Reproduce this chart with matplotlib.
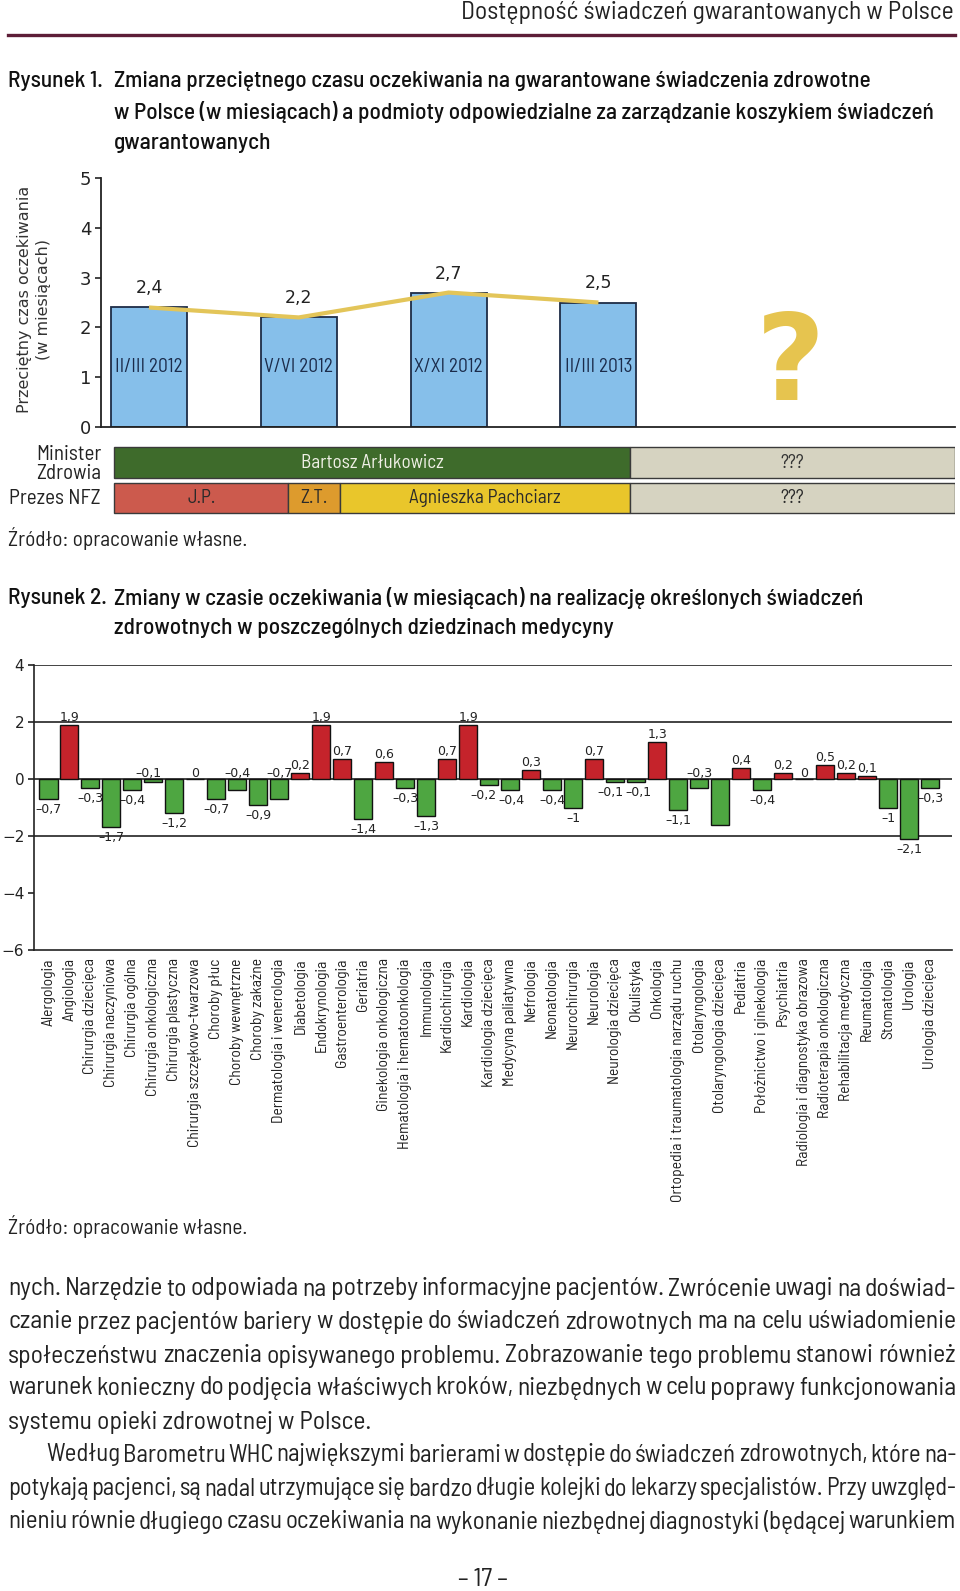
import matplotlib
matplotlib.use('Agg')
import matplotlib.pyplot as plt
import numpy as np
from matplotlib.font_manager import FontProperties, fontManager
from matplotlib.lines import Line2D

# ---------------- data: figure 1 ----------------
periods = ['II/III 2012', 'V/VI 2012', 'X/XI 2012', 'II/III 2013']
avg_wait = [2.4, 2.2, 2.7, 2.5]
y1_ticks = [0, 1, 2, 3, 4, 5]

minister_names = ['Bartosz Arłukowicz', '???']
minister_start = [-0.23, 3.21]
minister_end = [3.21, 5.38]

nfz_names = ['J.P.', 'Z.T.', 'Agnieszka Pachciarz', '???']
nfz_start = [-0.23, 0.93, 1.275, 3.21]
nfz_end = [0.93, 1.275, 3.21, 5.38]

# ---------------- data: figure 2 ----------------
specialties = [
    'Alergologia', 'Angiologia', 'Chirurgia dziecięca', 'Chirurgia naczyniowa',
    'Chirurgia ogólna', 'Chirurgia onkologiczna', 'Chirurgia plastyczna',
    'Chirurgia szczękowo-twarzowa', 'Choroby płuc', 'Choroby wewnętrzne',
    'Choroby zakaźne', 'Dermatologia i wenerologia', 'Diabetologia',
    'Endokrynologia', 'Gastroenterologia', 'Geriatria', 'Ginekologia onkologiczna',
    'Hematologia i hematoonkologia', 'Immunologia', 'Kardiochirurgia', 'Kardiologia',
    'Kardiologia dziecięca', 'Medycyna paliatywna', 'Nefrologia', 'Neonatologia',
    'Neurochirurgia', 'Neurologia', 'Neurologia dziecięca', 'Okulistyka', 'Onkologia',
    'Ortopedia i traumatologia narządu ruchu', 'Otolaryngologia',
    'Otolaryngologia dziecięca', 'Pediatria', 'Położnictwo i ginekologia',
    'Psychiatria', 'Radiologia i diagnostyka obrazowa', 'Radioterapia onkologiczna',
    'Rehabilitacja medyczna', 'Reumatologia', 'Stomatologia', 'Urologia',
    'Urologia dziecięca']
changes = [-0.7, 1.9, -0.3, -1.7, -0.4, -0.1, -1.2, 0, -0.7, -0.4, -0.9, -0.7,
           0.2, 1.9, 0.7, -1.4, 0.6, -0.3, -1.3, 0.7, 1.9, -0.2, -0.4, 0.3, -0.4,
           -1, 0.7, -0.1, -0.1, 1.3, -1.1, -0.3, -1.6, 0.4, -0.4, 0.2, 0, 0.5,
           0.2, 0.1, -1, -2.1, -0.3]
y2_ticks = [-6, -4, -2, 0, 2, 4]

# ---------------- texts ----------------
header = 'Dostępność świadczeń gwarantowanych w Polsce'
title1 = ['Zmiana przeciętnego czasu oczekiwania na gwarantowane świadczenia zdrowotne',
          'w Polsce (w miesiącach) a podmioty odpowiedzialne za zarządzanie koszykiem świadczeń',
          'gwarantowanych']
title2 = ['Zmiany w czasie oczekiwania (w miesiącach) na realizację określonych świadczeń',
          'zdrowotnych w poszczególnych dziedzinach medycyny']
source = 'Źródło: opracowanie własne.'
body = [
    'nych. Narzędzie to odpowiada na potrzeby informacyjne pacjentów. Zwrócenie uwagi na doświad-',
    'czanie przez pacjentów bariery w dostępie do świadczeń zdrowotnych ma na celu uświadomienie',
    'społeczeństwu znaczenia opisywanego problemu. Zobrazowanie tego problemu stanowi również',
    'warunek konieczny do podjęcia właściwych kroków, niezbędnych w celu poprawy funkcjonowania',
    'systemu opieki zdrowotnej w Polsce.',
    'Według Barometru WHC największymi barierami w dostępie do świadczeń zdrowotnych, które na-',
    'potykają pacjenci, są nadal utrzymujące się bardzo długie kolejki do lekarzy specjalistów. Przy uwzględ-',
    'nieniu równie długiego czasu oczekiwania na wykonanie niezbędnej diagnostyki (będącej warunkiem',
]

# ---------------- styles / layout ----------------
W, H, DPI = 960, 1591, 100
names = {f.name for f in fontManager.ttflist}


def pick(*cands):
    for c in cands:
        if c in names:
            return c
    return 'DejaVu Sans'


NARROW = pick('Barlow Semi Condensed', 'Roboto Condensed', 'Archivo Narrow',
              'Liberation Sans Narrow', 'Roboto')
SANS = 'DejaVu Sans'
TXT = '#222222'

fig = plt.figure(figsize=(W / DPI, H / DPI), dpi=DPI)
fig.patch.set_facecolor('white')
R = fig.canvas.get_renderer()


def fx(x):
    return x / W


def fy(y):
    return 1 - y / H


def tw(s, size, family=NARROW, weight='normal'):
    fp = FontProperties(family=family, size=size, weight=weight)
    return R.get_text_width_height_descent(s, fp, ismath=False)[0]


def fit(s, target, family=NARROW, weight='normal', base=14.0):
    return base * target / tw(s, base, family, weight)


def put(x, y, s, size, ha='left', va='center', family=NARROW, **kw):
    kw.setdefault('color', TXT)
    return fig.text(fx(x), fy(y), s, fontsize=size, ha=ha, va=va, family=family, **kw)


GAP_EM = 0.17


def fit_words(s, target, family=NARROW, base=14.0):
    words = s.split(' ')
    n = len(words) - 1
    total = sum(tw(w, base, family) for w in words) + n * GAP_EM * base * DPI / 72
    return base * target / total


def justify(x0, x1, y, s, size, family=NARROW):
    words = s.split(' ')
    n = len(words) - 1
    widths = [tw(w, size, family) for w in words]
    min_gap = 0.12 * size * DPI / 72
    if sum(widths) + n * min_gap > x1 - x0:
        size = size * (x1 - x0 - n * min_gap) / sum(widths)
        widths = [tw(w, size, family) for w in words]
    gap = (x1 - x0 - sum(widths)) / n
    x = x0
    for w, wd in zip(words, widths):
        put(x, y, w, size, family=family)
        x += wd + gap


def fmt(v, dash='\u2013'):
    s = ('%g' % abs(v)).replace('.', ',')
    return (dash if v < 0 else '') + s


# ---------------- header ----------------
put(954, 13, header, fit(header, 954 - 462), ha='right')
fig.add_artist(Line2D([fx(8), fx(955)], [fy(35), fy(35)], color='#5d1d37', lw=2.4))

# ---------------- titles ----------------
TW = 'medium'
ts = fit(title1[1], 935 - 114, weight=TW)
put(8, 81, 'Rysunek 1.', ts, color='#111111', weight=TW)
for line, y in zip(title1, [81, 112, 143]):
    put(114, y, line, ts, color='#111111', weight=TW)
put(8, 598, 'Rysunek 2.', ts, color='#111111', weight=TW)
for line, y in zip(title2, [598, 628]):
    put(114, y, line, ts, color='#111111', weight=TW)

# ---------------- figure 1: bars ----------------
ax1 = fig.add_axes([fx(101), fy(427), (955 - 101) / W, (427 - 178) / H])
x1 = np.arange(len(periods))
ax1.bar(x1, avg_wait, width=0.507, color='#86bfea', edgecolor='#1e2c46', linewidth=1.3, zorder=2)
ax1.plot(x1, avg_wait, color='#e3c559', lw=3, zorder=3, solid_capstyle='butt')
lab_size = fit('II/III 2012', 67)
for xi, v, p in zip(x1, avg_wait, periods):
    ax1.annotate(fmt(v), (xi, v), xytext=(0, 19), textcoords='offset pixels',
                 ha='center', va='center', fontsize=12.5, family=SANS, color=TXT)
    ax1.text(xi, 1.2, p, ha='center', va='center', fontsize=lab_size, family=NARROW,
             color='#1b2b4a', zorder=4)
ax1.text(4.28, 0.54, '?', fontsize=86, weight='bold', color='#e6c44f',
         ha='center', va='baseline', family=SANS)
ax1.set_xlim(-0.32, 5.38)
ax1.set_ylim(0, 5)
ax1.set_yticks(y1_ticks)
ax1.set_xticks([])
for sp in ['top', 'right']:
    ax1.spines[sp].set_visible(False)
for sp in ['left', 'bottom']:
    ax1.spines[sp].set_color('#222222')
    ax1.spines[sp].set_linewidth(1.3)
ax1.tick_params(axis='y', direction='out', length=4, width=1.2, labelsize=13, pad=3,
                colors='#222222')
ax1.patch.set_alpha(0)
fig.text(fx(34), fy(299), 'Przeciętny czas oczekiwania\n(w miesiącach)', rotation=90,
         ha='center', va='center', fontsize=11.5, family=SANS, linespacing=1.3,
         color='#333333', multialignment='center')

# ---------------- figure 1: gantt ----------------
axg = fig.add_axes([fx(101), fy(520), (955 - 101) / W, (520 - 440) / H])
axg.set_xlim(-0.32, 5.38)
axg.set_ylim(520, 440)
axg.axis('off')
min_colors = ['#3e6b2b', '#d6d3c1']
min_text = ['#f0f0e6', '#333333']
nfz_colors = ['#cc5a4d', '#dd9b2d', '#e9c62b', '#d6d3c1']
gsize = fit('Agnieszka Pachciarz', 151)
axg.barh(462.5, np.subtract(minister_end, minister_start), left=minister_start, height=31,
         color=min_colors, edgecolor='#3a3a3a', linewidth=1)
for s, e, n, c in zip(minister_start, minister_end, minister_names, min_text):
    axg.text((s + e) / 2, 462.5, n, ha='center', va='center', fontsize=gsize,
             family=NARROW, color=c)
axg.barh(498, np.subtract(nfz_end, nfz_start), left=nfz_start, height=30,
         color=nfz_colors, edgecolor='#3a3a3a', linewidth=1)
for s, e, n in zip(nfz_start, nfz_end, nfz_names):
    axg.text((s + e) / 2, 498, n, ha='center', va='center', fontsize=gsize,
             family=NARROW, color='#2a2a2a')
rsize = fit('Prezes NFZ', 91)
put(101, 455, 'Minister', rsize, ha='right')
put(101, 473, 'Zdrowia', rsize, ha='right')
put(101, 499, 'Prezes NFZ', rsize, ha='right')

ssize = fit(source, 240)
put(8, 538, source, ssize)

# ---------------- figure 2 ----------------
ax2 = fig.add_axes([fx(34), fy(950), (952 - 34) / W, (950 - 665) / H])
x2 = np.arange(len(changes))
bar_colors = ['#c5232b' if v > 0 else '#4ea641' for v in changes]
ax2.bar(x2, changes, width=0.86, color=bar_colors, edgecolor='#111111', linewidth=1, zorder=3)
for yg in [4, 2, 0, -2]:
    ax2.axhline(yg, color='#222222', lw=1.2, zorder=2)
hide_labels = {32}
above_zero = {5, 9, 11, 31}
nudge_px = {5: -5, 21: -6, 27: -5, 28: 2, 22: 1}
for i, v in enumerate(changes):
    if i in hide_labels:
        continue
    if v == 0 or i in above_zero:
        y0, off = 0, 2
    elif v > 0:
        y0, off = v, 4
    else:
        y0, off = v, -14
    ax2.annotate(fmt(v), (i, y0), xytext=(nudge_px.get(i, 0), off), textcoords='offset pixels',
                 ha='center', va='baseline', fontsize=9, family=SANS, color=TXT, zorder=5)
ax2.set_xlim(-0.69, 43.05)
ax2.set_ylim(-6, 4)
ax2.set_yticks(y2_ticks)
ax2.set_xticks(x2)
xl_size = fit('Ortopedia i traumatologia narządu ruchu', 244)
ax2.set_xticklabels(specialties, rotation=90, fontsize=xl_size, family=NARROW,
                    va='top', ha='center', color=TXT)
for sp in ['top', 'right']:
    ax2.spines[sp].set_visible(False)
for sp in ['left', 'bottom']:
    ax2.spines[sp].set_color('#222222')
    ax2.spines[sp].set_linewidth(1.2)
ax2.tick_params(axis='y', direction='out', length=4, width=1.2, labelsize=11, pad=3,
                colors='#222222')
ax2.tick_params(axis='x', length=0, pad=6)
ax2.patch.set_alpha(0)

put(8, 1226, source, ssize)

# ---------------- body text ----------------
body_y = [1289, 1322, 1356, 1388, 1422, 1455, 1489, 1522]
body_x0 = [8, 8, 8, 8, 8, 46, 8, 8]
body_just = [True, True, True, True, False, True, True, True]
bsize = fit_words(body[1], 956 - 8)
for s, y, x0, j in zip(body, body_y, body_x0, body_just):
    if j:
        justify(x0, 956, y, s, bsize)
    else:
        put(x0, y, s, bsize)

put(483, 1580, '– 17 –', bsize, ha='center')

fig.savefig('out.png', dpi=DPI, facecolor='white')
